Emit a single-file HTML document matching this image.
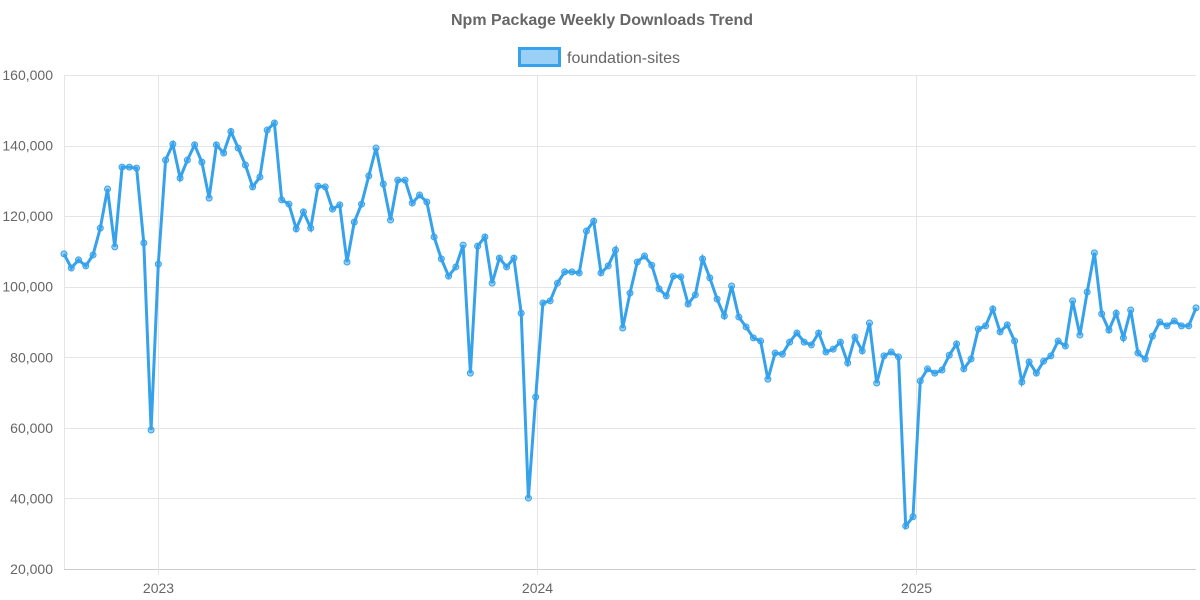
<!DOCTYPE html>
<html><head><meta charset="utf-8"><style>
html,body{margin:0;padding:0;background:#fff;}
svg{display:block;font-family:"Liberation Sans",sans-serif;}
</style></head><body>
<svg id="chart" width="1200" height="600">
<text x="602" y="25" text-anchor="middle" font-size="16" font-weight="bold" fill="#666">Npm Package Weekly Downloads Trend</text>
<g>
<rect x="519.5" y="48.5" width="40" height="17" fill="rgba(54,162,235,0.5)" stroke="#36A2EB" stroke-width="3"></rect>
<text x="567" y="63" font-size="16" fill="#666">foundation-sites</text>
</g>
<g id="grid"></g>
<g id="yaxis"></g>
<g id="xaxis"></g>
<g id="series"></g>
</svg>
<script>
const startDate = "2022-10-02";
const downloads = [109.3,105.3,107.6,105.9,109,116.6,127.7,111.3,133.9,133.9,133.6,112.4,59.4,106.4,135.9,140.4,130.8,135.9,140.2,135.3,125.1,140.2,137.9,144,139.3,134.5,128.3,131.1,144.4,146.4,124.6,123.4,116.4,121.2,116.6,128.5,128.3,122,123.2,107,118.3,123.4,131.4,139.3,129.1,118.9,130.2,130.2,123.7,126,124,114.1,107.9,103,105.6,111.8,75.5,111.5,114.1,101,108.1,105.6,108.1,92.5,40.1,68.7,95.4,96,101,104.2,104.2,103.9,115.8,118.6,103.9,105.9,110.4,88.3,98.2,107,108.7,106.1,99.4,97.4,103,102.8,95.1,97.7,107.9,102.5,96.5,91.7,100.2,91.4,88.6,85.5,84.6,73.8,81.2,80.9,84.3,86.9,84.3,83.5,86.9,81.5,82.3,84.3,78.4,85.7,81.8,89.7,72.7,80.4,81.5,80.1,32.2,34.8,73.3,76.7,75.5,76.4,80.6,83.8,76.7,79.5,88,88.9,93.7,87.2,89.2,84.6,73,78.7,75.5,78.9,80.4,84.6,83.2,96,86.3,98.5,109.6,92.3,87.7,92.5,85.5,93.4,81.2,79.5,86,90,88.9,90.3,88.9,88.9,94].map(v=>v*1000);
const yTicks = [20000,40000,60000,80000,100000,120000,140000,160000];
const xTickLabels = ["2023","2024","2025"];
const xTickDates = ["2023-01-01","2024-01-01","2025-01-01"];

const NS="http://www.w3.org/2000/svg";
const L=64,R=1196,T=75,B=569,YMIN=20000,YMAX=160000;
const t0=Date.parse(startDate), t1=t0+(downloads.length-1)*7*864e5;
const xs=t=>L+(t-t0)/(t1-t0)*(R-L);
const ys=v=>B-(v-YMIN)/(YMAX-YMIN)*(B-T);
function mk(tag,attrs,parent){const e=document.createElementNS(NS,tag);for(const k in attrs)e.setAttribute(k,attrs[k]);parent.appendChild(e);return e;}
const grid=document.getElementById('grid'),ya=document.getElementById('yaxis'),xa=document.getElementById('xaxis'),ser=document.getElementById('series');
yTicks.forEach(v=>{
  const y=Math.round(ys(v))+0.5;
  const g=mk('line',{x1:L,x2:R,y1:y,y2:y,stroke:v===YMIN?'#ccc':'#e5e5e5','stroke-width':1},grid);
  
  
  const t=mk('text',{x:53,y:ys(v)+5,'text-anchor':'end','font-size':14,fill:'#666'},ya);
  t.textContent=v.toLocaleString('en-US');
  
  
});
const vl=mk('line',{x1:L+0.5,x2:L+0.5,y1:T,y2:B,stroke:'#e5e5e5'},grid);


xTickDates.forEach((d,i)=>{
  const x=Math.round(xs(Date.parse(d)))+0.5;
  const g=mk('line',{x1:x,x2:x,y1:T,y2:B+6,stroke:'#e5e5e5'},grid);
  
  
  const t=mk('text',{x:x,y:593,'text-anchor':'middle','font-size':14,fill:'#666'},xa);
  t.textContent=xTickLabels[i];
  
  
});
const pts=downloads.map((v,i)=>[xs(t0+i*7*864e5),ys(v)]);
const path=mk('polyline',{points:pts.map(p=>p[0].toFixed(1)+','+p[1].toFixed(1)).join(' '),fill:'none',stroke:'#36A2EB','stroke-width':3,'stroke-linejoin':'miter'},ser);


pts.forEach(p=>{
  const c=mk('circle',{cx:p[0],cy:p[1],r:3,fill:'rgba(54,162,235,0.5)',stroke:'#36A2EB','stroke-width':1},ser);
  
  
});
</script>
</body></html>
